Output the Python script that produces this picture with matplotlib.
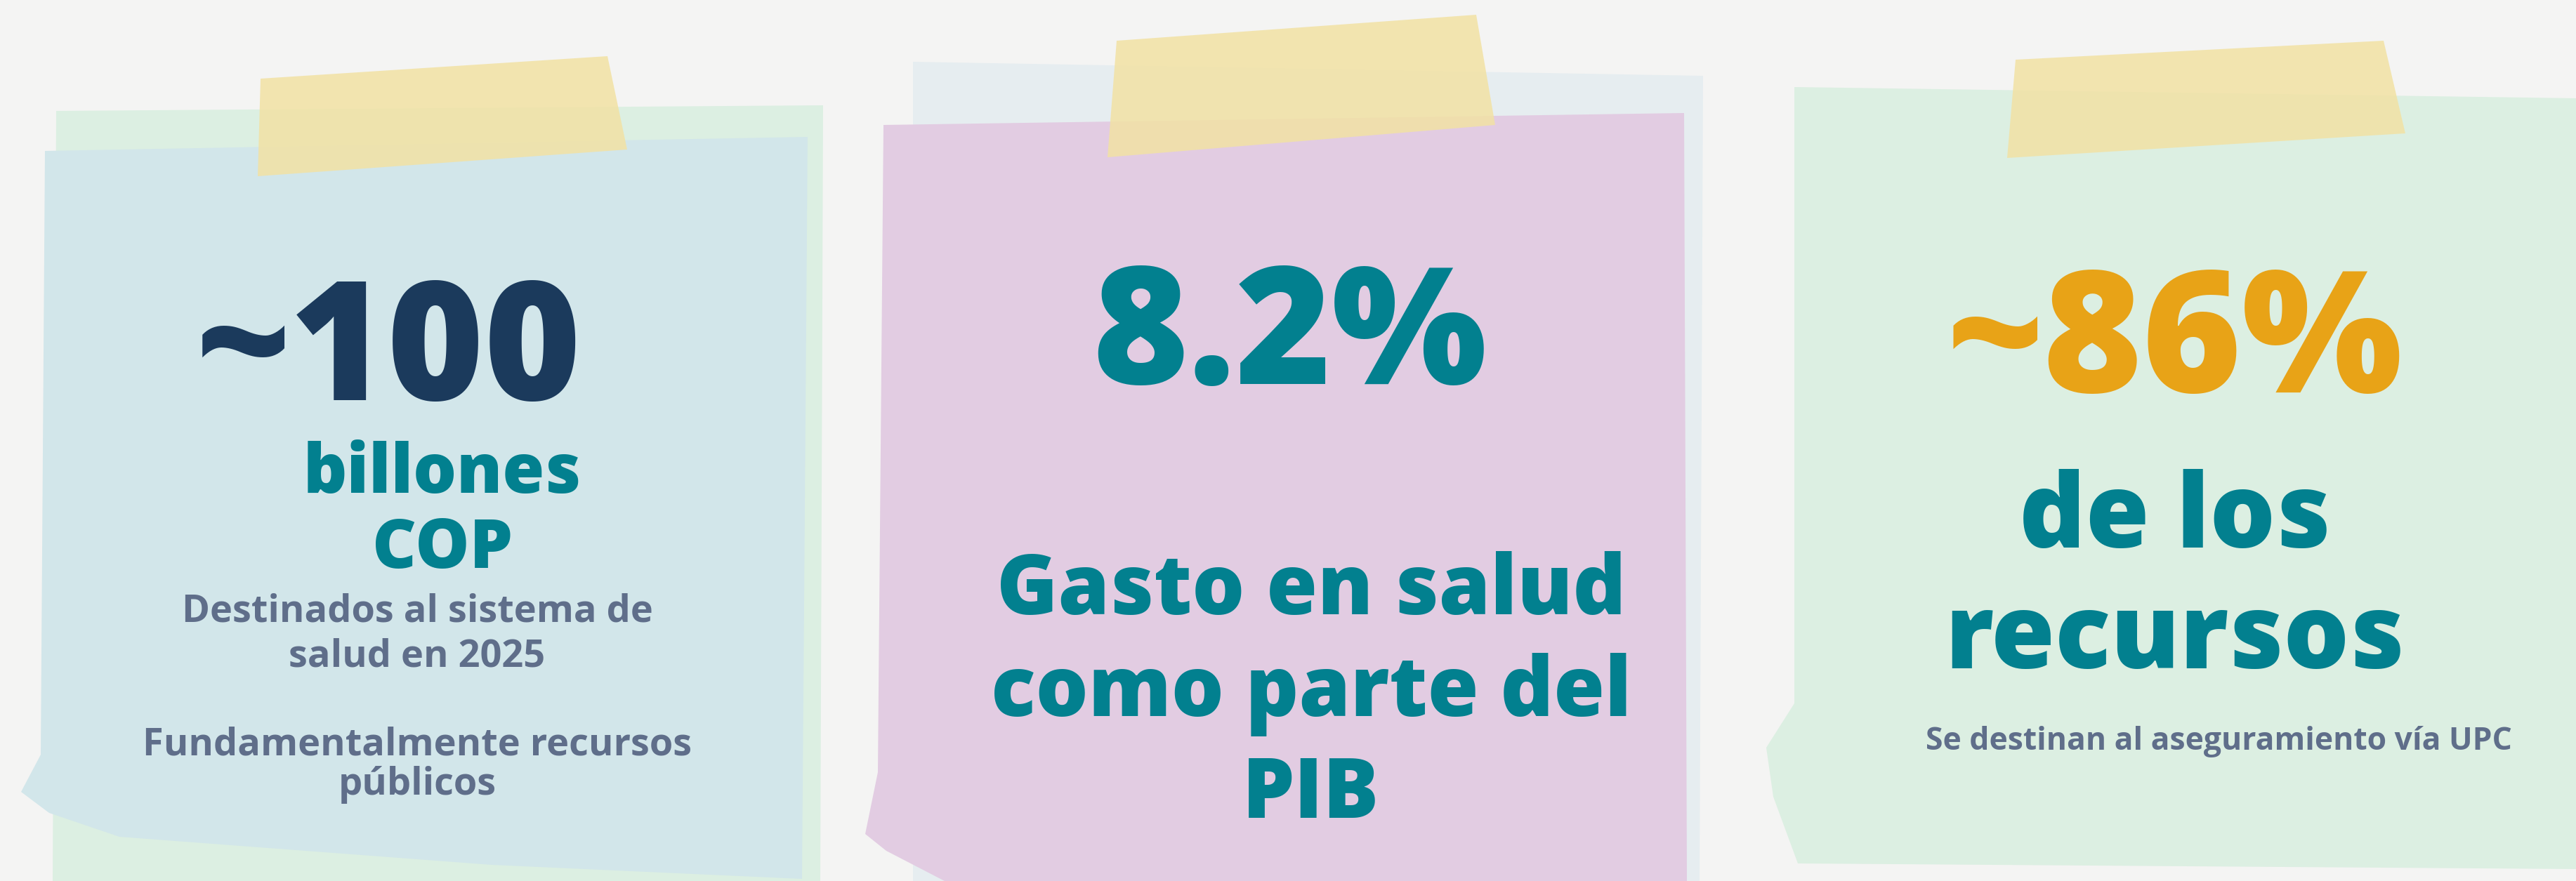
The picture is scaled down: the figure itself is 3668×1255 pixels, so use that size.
import matplotlib.pyplot as plt
from matplotlib.patches import Polygon

# canvas size in pixels (figure drawn at dpi 100)
W, H = 3668, 1255

# headline figures and their captions
values = ["~100", "8.2%", "~86%"]
value_colors = ["#1b3a5c", "#02808f", "#e8a317"]
teal_lines = [["billones", "COP"],
              ["Gasto en salud", "como parte del", "PIB"],
              ["de los", "recursos"]]
gray_lines = [["Destinados al sistema de", "salud en 2025", "", "Fundamentalmente recursos", "públicos"],
              [],
              ["Se destinan al aseguramiento vía UPC"]]

TEAL = "#02808f"
GRAY = "#5f6e8a"
FONT = ["Open Sans", "DejaVu Sans"]

# sticky notes (pixel outlines), drawn back to front
notes = [
    ("#dcefe2", [(80, 158), (1172, 150), (1168, 1255), (75, 1255)]),
    ("#d2e6ea", [(64, 215), (1150, 195), (1142, 1252), (700, 1232), (170, 1192),
                 (70, 1158), (30, 1128), (58, 1075)]),
    ("#e6edf0", [(1300, 88), (2425, 108), (2420, 1255), (1300, 1255)]),
    ("#e2cce2", [(1258, 178), (2398, 161), (2402, 1255), (1345, 1255),
                 (1262, 1212), (1232, 1188), (1250, 1100)]),
    ("#dcefe2", [(2555, 124), (3668, 140), (3668, 1238), (2560, 1230),
                 (2525, 1135), (2515, 1065), (2555, 1002)]),
]
tapes = [
    [(371, 112), (865, 80), (893, 213), (367, 251)],
    [(1590, 58), (2102, 21), (2129, 178), (1577, 224)],
    [(2870, 85), (3394, 58), (3425, 190), (2858, 225)],
]

fig = plt.figure(figsize=(W / 100, H / 100), dpi=100)
fig.patch.set_facecolor("#f4f4f3")
ax = fig.add_axes([0, 0, 1, 1])
ax.set_xlim(0, W)
ax.set_ylim(H, 0)
ax.axis("off")

for color, pts in notes:
    ax.add_patch(Polygon(pts, closed=True, facecolor=color, edgecolor="none"))
for pts in tapes:
    ax.add_patch(Polygon(pts, closed=True, facecolor="#f2e2a4", edgecolor="none", alpha=0.85))

# note 1
ax.text(554, 570, values[0], color=value_colors[0], fontsize=170, fontweight="heavy",
        family=FONT, ha="center", va="baseline")
for txt, y in zip(teal_lines[0], [702, 809]):
    ax.text(630, y, txt, color=TEAL, fontsize=70, fontweight="heavy", family=FONT,
            ha="center", va="baseline")
for txt, y in zip(gray_lines[0], [885, 949, 1012, 1076, 1132]):
    ax.text(594, y, txt, color=GRAY, fontsize=39, fontweight="bold", family=FONT,
            ha="center", va="baseline")

# note 2
ax.text(1836, 547, values[1], color=value_colors[1], fontsize=168, fontweight="heavy",
        family=FONT, ha="center", va="baseline")
for txt, y in zip(teal_lines[1], [875, 1020, 1165]):
    ax.text(1867, y, txt, color=TEAL, fontsize=85, fontweight="heavy", family=FONT,
            ha="center", va="baseline")

# note 3
ax.text(3097, 559, values[2], color=value_colors[2], fontsize=174, fontweight="heavy",
        family=FONT, ha="center", va="baseline")
for txt, y in zip(teal_lines[2], [780, 952]):
    ax.text(3097, y, txt, color=TEAL, fontsize=106, fontweight="heavy", family=FONT,
            ha="center", va="baseline")
ax.text(3159, 1068, gray_lines[2][0], color=GRAY, fontsize=32, fontweight="bold",
        family=FONT, ha="center", va="baseline")

fig.savefig("out.png", dpi=100, facecolor=fig.get_facecolor())
